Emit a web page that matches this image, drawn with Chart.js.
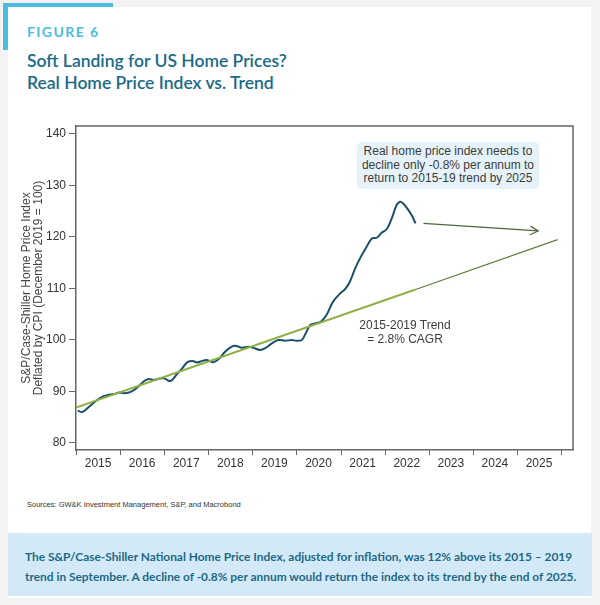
<!DOCTYPE html>
<html><head><meta charset="utf-8">
<script src="https://cdn.jsdelivr.net/npm/chart.js@4.4.1/dist/chart.umd.min.js"></script>
<style>
html,body{margin:0;padding:0;}
body{width:600px;height:605px;background:#f3f3f3;position:relative;overflow:hidden;font-family:'Liberation Sans',Arial,sans-serif;}
#card{position:absolute;left:8px;top:7px;width:583px;height:591px;background:#fff;}
#accentH{position:absolute;left:3px;top:3px;width:110px;height:4px;background:#4bbde3;}
#accentV{position:absolute;left:3px;top:3px;width:5px;height:47px;background:#4bbde3;}
#fig{position:absolute;left:27px;top:23px;font:700 14px Lato,sans-serif;letter-spacing:1.4px;color:#4bbde3;}
#title{position:absolute;left:27px;top:50px;font:600 17.5px Lato,sans-serif;color:#1a6a89;line-height:22px;white-space:nowrap;}
#chartbox{position:absolute;left:0;top:100px;width:600px;height:390px;}
#note{position:absolute;left:357px;top:142px;width:182px;height:47px;background:#e5f2fa;border-radius:5px;color:#3c3c3c;font-size:12px;line-height:13.5px;text-align:center;box-sizing:border-box;padding-top:3px;white-space:nowrap;}
#trendlbl{position:absolute;left:345px;top:319px;width:120px;color:#3c3c3c;font-size:12px;line-height:13.5px;text-align:center;white-space:nowrap;}
#src{position:absolute;left:27px;top:500px;font-size:7.5px;color:#333;white-space:nowrap;}
#foot{position:absolute;left:8px;top:533px;width:584px;height:63px;background:#d3e9f7;}
#foottxt{position:absolute;left:25px;top:547px;font:700 11.9px Lato,sans-serif;color:#1d6a88;line-height:20px;white-space:nowrap;}
</style></head>
<body>
<div id="card"></div>
<div id="accentH"></div><div id="accentV"></div>
<div id="fig">FIGURE 6</div>
<div id="title">Soft Landing for US Home Prices?<br>Real Home Price Index vs. Trend</div>
<div id="chartbox"><canvas id="c" width="600" height="390"></canvas></div>
<div id="note">Real home price index needs to<br>decline only -0.8% per annum to<br>return to 2015-19 trend by 2025</div>
<div id="trendlbl">2015-2019 Trend<br>= 2.8% CAGR</div>
<div id="src">Sources: GW&amp;K Investment Management, S&amp;P, and Macrobond</div>
<div id="foot"></div>
<div id="foottxt">The S&amp;P/Case-Shiller National Home Price Index, adjusted for inflation, was 12% above its 2015 – 2019<br>trend in September. A decline of -0.8% per annum would return the index to its trend by the end of 2025.</div>
<script>
// ---- data ----
const realYears = [2015.04,2015.15,2015.29,2015.45,2015.6,2015.71,2015.86,2015.98,2016.09,2016.2,2016.32,2016.43,2016.54,2016.63,2016.77,2016.88,2017.0,2017.11,2017.18,2017.3,2017.41,2017.52,2017.64,2017.75,2017.87,2017.96,2018.11,2018.23,2018.38,2018.53,2018.64,2018.76,2018.91,2019.02,2019.17,2019.29,2019.44,2019.59,2019.74,2019.89,2020.0,2020.12,2020.19,2020.31,2020.42,2020.55,2020.68,2020.83,2020.99,2021.1,2021.21,2021.33,2021.44,2021.59,2021.71,2021.82,2021.93,2022.05,2022.16,2022.27,2022.35,2022.42,2022.51,2022.61,2022.7];
const realIndex = [86.25,86.05,87.0,88.15,89.0,89.3,89.5,89.8,89.65,89.8,90.3,91.1,92.0,92.4,92.25,92.5,92.55,92.05,92.25,93.5,94.5,95.65,95.9,95.65,95.95,96.1,95.7,96.25,97.7,98.7,98.85,98.5,98.7,98.5,98.05,98.4,99.35,100.0,99.85,100.0,99.85,100.0,100.95,102.9,103.2,103.55,104.85,107.45,109.05,109.85,111.3,113.9,115.85,118.1,119.7,119.85,120.8,121.55,123.6,126.2,126.85,126.5,125.55,124.25,122.65];
const trendYears = [2015.0, 2022.7];
const trendValues = [86.9, 109.8];
const projYears = [2022.7, 2025.92];
const projValues = [109.8, 119.5];
const arrowYears = [2022.88, 2025.48];
const arrowValues = [122.66, 121.17];
const yTicks = [80, 90, 100, 110, 120, 130, 140];
const yearLabels = ['2015','2016','2017','2018','2019','2020','2021','2022','2023','2024','2025'];
const yearStarts = [2015,2016,2017,2018,2019,2020,2021,2022,2023,2024,2025,2026];

const pts = (xs, ys) => xs.map((x, i) => ({x, y: ys[i]}));

Chart.defaults.font.family = "'Liberation Sans', Arial, sans-serif";
Chart.defaults.color = '#3a3a3a';

const decor = {
  id: 'decor',
  afterDatasetsDraw(chart) {
    const {ctx, chartArea: a, scales: {x}} = chart;
    ctx.save();
    ctx.strokeStyle = '#666'; ctx.lineWidth = 1.5;
    ctx.beginPath(); ctx.moveTo(a.left, a.top); ctx.lineTo(a.right, a.top); ctx.lineTo(a.right, a.bottom); ctx.stroke();
    ctx.lineWidth = 1;
    yearStarts.forEach(v => {
      const px = Math.round(x.getPixelForValue(v)) + 0.5;
      ctx.beginPath(); ctx.moveTo(px, a.bottom); ctx.lineTo(px, a.bottom + 5); ctx.stroke();
    });
    // arrowhead on the arrow dataset
    const meta = chart.getDatasetMeta(3);
    const p0 = meta.data[0], p1 = meta.data[1];
    const ang = Math.atan2(p1.y - p0.y, p1.x - p0.x);
    ctx.strokeStyle = '#4d6639'; ctx.lineWidth = 1.2;
    ctx.beginPath();
    ctx.moveTo(p1.x - 9 * Math.cos(ang - 0.5), p1.y - 9 * Math.sin(ang - 0.5));
    ctx.lineTo(p1.x, p1.y);
    ctx.lineTo(p1.x - 9 * Math.cos(ang + 0.5), p1.y - 9 * Math.sin(ang + 0.5));
    ctx.stroke();
    ctx.restore();
  }
};

new Chart(document.getElementById('c'), {
  type: 'line',
  data: {
    datasets: [
      {data: pts(trendYears, trendValues), borderColor: '#8fb043', borderWidth: 2, pointRadius: 0, tension: 0},
      {data: pts(projYears, projValues), borderColor: '#5f7d3c', borderWidth: 1.2, pointRadius: 0, tension: 0},
      {data: pts(realYears, realIndex), borderColor: '#1b4f6c', borderWidth: 2, pointRadius: 0, tension: 0.35},
      {data: pts(arrowYears, arrowValues), borderColor: '#4d6639', borderWidth: 1.2, pointRadius: 0, tension: 0}
    ]
  },
  options: {
    responsive: false, animation: false, events: [],
    layout: {padding: {top: 26, right: 27, left: 0, bottom: 0}},
    plugins: {legend: {display: false}, tooltip: {enabled: false}},
    scales: {
      x: {
        type: 'linear', min: 2015, max: 2026.27,
        afterBuildTicks: s => { s.ticks = yearStarts.slice(0, yearLabels.length).map(v => ({value: v + 0.5})); },
        afterFit: s => { s.height = 40; },
        ticks: {callback: (v, i) => yearLabels[i], padding: 6, font: {size: 12}, color: '#333', maxRotation: 0, autoSkip: false},
        grid: {drawOnChartArea: false, drawTicks: false},
        border: {display: true, color: '#666', width: 1.5}
      },
      y: {
        min: 78.64, max: 141.55,
        afterBuildTicks: s => { s.ticks = yTicks.map(v => ({value: v})); },
        afterFit: s => { s.width = 76; },
        ticks: {padding: 3, font: {size: 12}, color: '#333'},
        grid: {drawOnChartArea: false, drawTicks: true, tickLength: 7, tickColor: '#666'},
        border: {display: true, color: '#666', width: 1.5},
        title: {display: true, text: ['S&P/Case-Shiller Home Price Index', 'Deflated by CPI (December 2019 = 100)'], font: {size: 12, lineHeight: 1.0}, color: '#444', padding: {top: 21, bottom: 0}}
      }
    }
  },
  plugins: [decor]
});
</script>
</body></html>
